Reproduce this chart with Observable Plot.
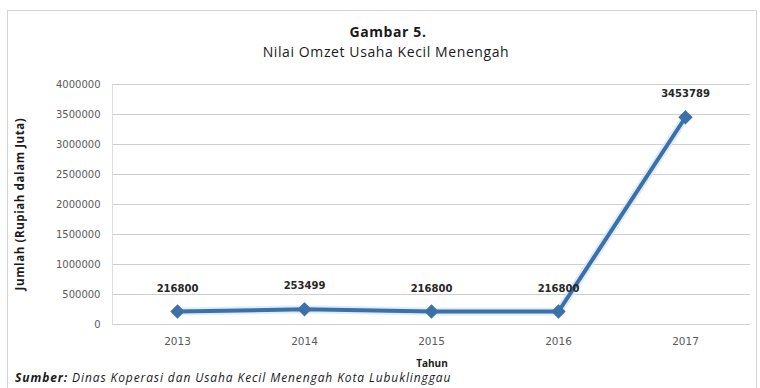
<!DOCTYPE html>
<html>
<head>
<meta charset="utf-8">
<script src="https://cdn.jsdelivr.net/npm/d3@7"></script>
<script src="https://cdn.jsdelivr.net/npm/@observablehq/plot@0.6"></script>
<style>
  html, body { margin: 0; padding: 0; background: #fff; overflow: hidden; }
  #wrap { position: relative; width: 760px; height: 388px; overflow: hidden; background: #fff; }
  #border { position: absolute; left: 7px; top: 10px; width: 750px; height: 400px; border: 1px solid #d4d4d4; box-sizing: border-box; }
  .t { position: absolute; white-space: nowrap; font-family: "Open Sans", sans-serif; color: #1a1a1a; line-height: 1.1; }
  #chart { position: absolute; left: 0; top: 0; }
</style>
</head>
<body>
<div id="wrap">
  <div id="border"></div>
  <div id="chart"></div>
  <div class="t" id="title" style="left:0;width:760px;text-align:center;top:24px;font-size:14px;letter-spacing:0.6px;font-weight:bold;padding-left:16px;box-sizing:border-box;">Gambar 5.</div>
  <div class="t" id="subtitle" style="left:0;width:760px;text-align:center;top:44px;font-size:14px;letter-spacing:0.6px;padding-left:12px;box-sizing:border-box;">Nilai Omzet Usaha Kecil Menengah</div>
  <div class="t" id="ytitle" style="left:20px;top:204px;font-size:11.5px;letter-spacing:0.6px;font-weight:bold;transform:translate(-50%,-50%) rotate(-90deg);">Jumlah (Rupiah dalam Juta)</div>
  <div class="t" id="xtitle" style="left:432px;top:358px;font-size:10px;font-weight:bold;transform:translateX(-50%);">Tahun</div>
  <div class="t" id="source" style="left:15px;top:371px;font-size:12px;letter-spacing:0.9px;font-style:italic;"><b>Sumber:</b> Dinas Koperasi dan Usaha Kecil Menengah Kota Lubuklinggau</div>
</div>
<script>
const years = ["2013", "2014", "2015", "2016", "2017"];
const omzet = [216800, 253499, 216800, 216800, 3453789];
const yTicks = [0, 500000, 1000000, 1500000, 2000000, 2500000, 3000000, 3500000, 4000000];

const data = years.map((y, i) => ({year: y, value: omzet[i]}));

const chart = Plot.plot({
  width: 760,
  height: 388,
  marginTop: 84,
  marginBottom: 64,
  marginLeft: 112,
  marginRight: 10,
  style: {fontFamily: "'DejaVu Sans', sans-serif", fontSize: "10px", background: "transparent"},
  x: {type: "point", domain: years, padding: 0.5, label: null},
  y: {domain: [0, 4000000], label: null},
  marks: [
    Plot.gridY(yTicks, {stroke: "#cfcfcf", strokeOpacity: 1, strokeWidth: 1}),
    Plot.frame({anchor: "left", stroke: "#dcdcdc"}),
    Plot.axisY(yTicks, {tickSize: 0, tickPadding: 12, tickFormat: d3.format("d"), fill: "#5a5a5a", fontSize: 10, label: null}),
    Plot.axisX({tickSize: 0, tickPadding: 13, fill: "#5a5a5a", fontSize: 10.5, letterSpacing: "1px", label: null}),
    Plot.line(data, {x: "year", y: "value", stroke: "#d6e8f8", strokeWidth: 8, strokeOpacity: 0.8}),
    Plot.line(data, {x: "year", y: "value", stroke: "#3c70aa", strokeWidth: 4}),
    Plot.dot(data, {x: "year", y: "value", symbol: "diamond2", r: 5.5, fill: "#3c70aa", stroke: "#3c70aa"}),
    Plot.text(data, {x: "year", y: "value", text: d => String(d.value), dy: -23, fontWeight: "bold", fontSize: 10, fill: "#262626"})
  ]
});
document.getElementById("chart").appendChild(chart);
</script>
</body>
</html>
